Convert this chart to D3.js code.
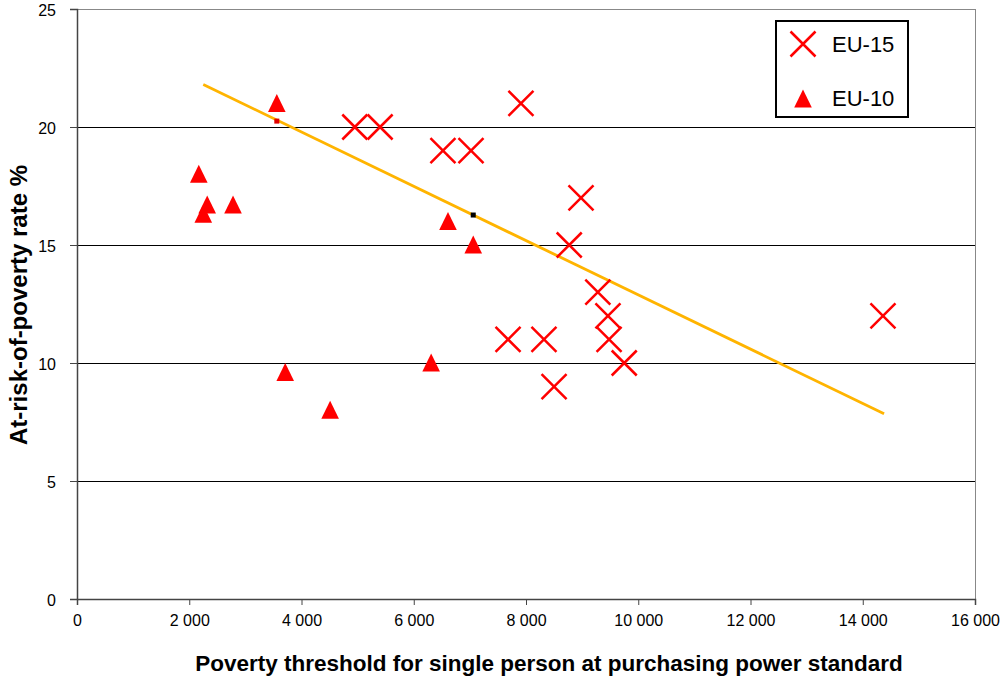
<!DOCTYPE html>
<html>
<head>
<meta charset="utf-8">
<script src="https://cdn.jsdelivr.net/npm/d3@7"></script>
<style>
  body { margin: 0; background: #fff; }
  svg { display: block; font-family: "Liberation Sans", Arial, sans-serif; }
</style>
</head>
<body>
<svg id="chart"></svg>
<script>
// EU-15 points: poverty threshold (PPS) and at-risk-of-poverty rate %
var eu15_x = [4950, 5400, 6520, 7020, 7910, 8980, 8770, 9280, 9460, 9480, 9750, 7680, 8320, 8500, 14360]
var eu15_y = [20, 20, 19, 19, 21, 17, 15, 13, 12, 11, 10, 11, 11, 9, 12]

// EU-10 points
var eu10_x = [3560, 2170, 2320, 2250, 2780, 6610, 7060, 3710, 4510, 6310]
var eu10_y = [21, 18, 16.7, 16.3, 16.7, 16, 15, 9.6, 8, 10]

// linear trend line end points
var trend_x = [2250, 14380]
var trend_y = [21.8, 7.85]

// stray small markers sitting on the trend line
var dots_x = [3560, 7060]
var dots_y = [20.25, 16.27]
var dots_c = ['#E00000', '#000000']

var xTicks = [0, 2000, 4000, 6000, 8000, 10000, 12000, 14000, 16000]
var yTicks = [0, 5, 10, 15, 20, 25]
var seriesNames = ["EU-15", "EU-10"]

var width = 1004
var height = 679
var svg = d3.select('#chart').attr('width', width).attr('height', height)

var x = d3.scaleLinear().domain([0, 16000]).range([77, 975])
var y = d3.scaleLinear().domain([0, 25]).range([599, 9])

var fmt = d3.formatLocale({ decimal: ",", thousands: " ", grouping: [3], currency: ["", ""] }).format(",")

// horizontal gridlines
svg.append('g')
  .selectAll('line')
  .data(yTicks.filter(function (d) { return d > 0 && d < 25 }))
  .enter().append('line')
    .attr('x1', x(0)).attr('x2', x(16000))
    .attr('y1', function (d) { return y(d) }).attr('y2', function (d) { return y(d) })
    .attr('stroke', '#000').attr('stroke-width', 1)
    .attr('shape-rendering', 'crispEdges')

// plot frame top/right
svg.append('path')
  .attr('d', 'M' + x(0) + ',' + y(25) + 'H' + x(16000) + 'V' + y(0))
  .attr('fill', 'none').attr('stroke', '#888').attr('stroke-width', 1)
  .attr('shape-rendering', 'crispEdges')

// axes
var xAxis = svg.append('g')
  .attr('transform', 'translate(0,' + y(0) + ')')
  .call(d3.axisBottom(x).tickValues(xTicks).tickSize(6).tickPadding(10).tickFormat(fmt))
var yAxis = svg.append('g')
  .attr('transform', 'translate(' + x(0) + ',0)')
  .call(d3.axisLeft(y).tickValues(yTicks).tickSize(7).tickPadding(14))

;[xAxis, yAxis].forEach(function (a) {
  a.select('.domain').attr('stroke', '#444').attr('stroke-width', 1.5)
  a.selectAll('.tick line').attr('stroke', '#444')
  a.selectAll('.tick text')
    .attr('fill', '#000')
    .style('font-size', '16px')
    .style('font-family', '"Liberation Sans", Arial, sans-serif')
})
yAxis.selectAll('.tick text').attr('dy', '0.4em')

// trend line
svg.append('line')
  .attr('x1', x(trend_x[0])).attr('y1', y(trend_y[0]))
  .attr('x2', x(trend_x[1])).attr('y2', y(trend_y[1]))
  .attr('stroke', '#FFB400').attr('stroke-width', 2.8)

svg.append('g')
  .selectAll('rect')
  .data(dots_x)
  .enter().append('rect')
    .attr('x', function (d) { return x(d) - 2.5 })
    .attr('y', function (d, i) { return y(dots_y[i]) - 2.5 })
    .attr('width', 5).attr('height', 5)
    .attr('fill', function (d, i) { return dots_c[i] })

var eu15 = eu15_x.map(function (v, i) { return { x: v, y: eu15_y[i] } })
var eu10 = eu10_x.map(function (v, i) { return { x: v, y: eu10_y[i] } })

function crossPath(s) {
  return 'M' + (-s) + ',' + (-s) + 'L' + s + ',' + s + 'M' + (-s) + ',' + s + 'L' + s + ',' + (-s)
}
var triangle = 'M0,-9.5L8.8,8.5L-8.8,8.5Z'

svg.append('g')
  .selectAll('path')
  .data(eu10)
  .enter().append('path')
    .attr('d', triangle)
    .attr('transform', function (d) { return 'translate(' + x(d.x) + ',' + y(d.y) + ')' })
    .attr('fill', '#FF0000')

svg.append('g')
  .selectAll('path')
  .data(eu15)
  .enter().append('path')
    .attr('d', crossPath(12.5))
    .attr('transform', function (d) { return 'translate(' + x(d.x) + ',' + y(d.y) + ')' })
    .attr('fill', 'none')
    .attr('stroke', '#FF0000')
    .attr('stroke-width', 2.5)

// legend
var legend = svg.append('g').attr('transform', 'translate(776,21)')
legend.append('rect')
  .attr('width', 132).attr('height', 96)
  .attr('fill', '#fff').attr('stroke', '#000').attr('stroke-width', 2)
legend.append('path')
  .attr('d', crossPath(12.5))
  .attr('transform', 'translate(27,23)')
  .attr('fill', 'none').attr('stroke', '#FF0000').attr('stroke-width', 2.5)
legend.append('path')
  .attr('d', triangle)
  .attr('transform', 'translate(27,78)')
  .attr('fill', '#FF0000')
legend.selectAll('text')
  .data(seriesNames)
  .enter().append('text')
    .attr('x', 56)
    .attr('y', function (d, i) { return i === 0 ? 31 : 85 })
    .style('font-size', '22px')
    .text(function (d) { return d })

// axis titles
svg.append('text')
  .attr('x', 549).attr('y', 671)
  .attr('text-anchor', 'middle')
  .style('font-size', '22.5px').style('font-weight', 'bold')
  .text('Poverty threshold for single person at purchasing power standard')

svg.append('text')
  .attr('transform', 'translate(27,305) rotate(-90)')
  .attr('text-anchor', 'middle')
  .style('font-size', '24px').style('font-weight', 'bold')
  .text('At-risk-of-poverty rate %')
</script>
</body>
</html>
